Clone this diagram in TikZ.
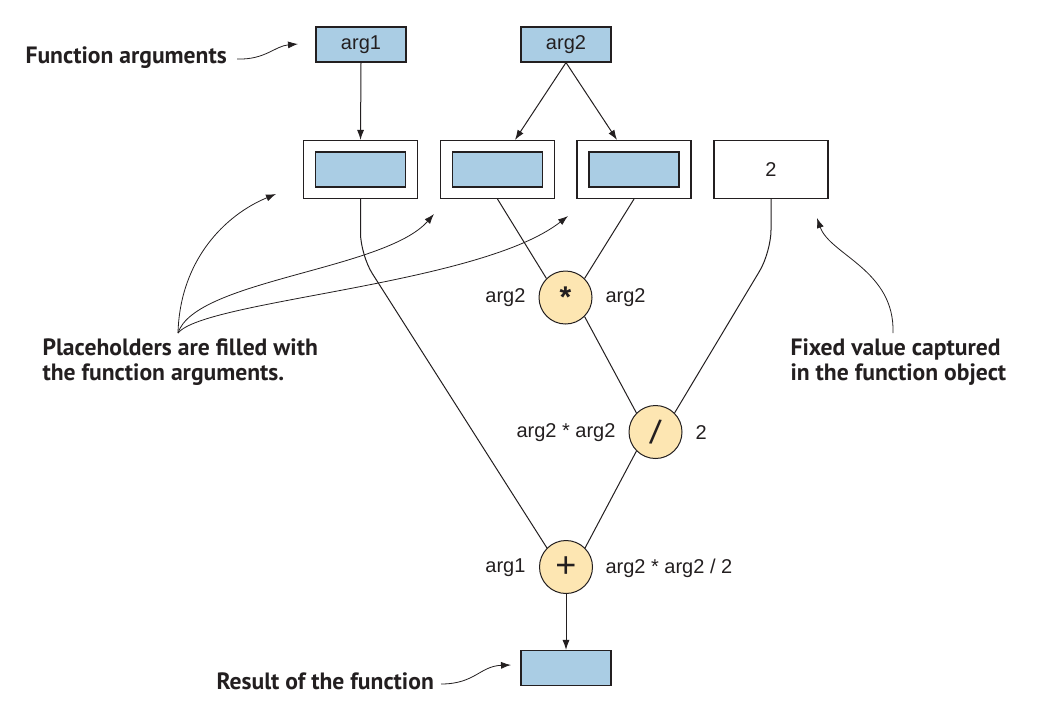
\documentclass[tikz,border=0pt]{standalone}
\usepackage{fontspec}
\setmainfont{Liberation Sans}
\newfontfamily\annotfont{PT Sans}
\usetikzlibrary{arrows.meta}
\definecolor{argblue}{HTML}{AACDE4}
\definecolor{opyellow}{HTML}{FDE6B2}
\definecolor{inkgray}{HTML}{231F20}
\begin{document}
\begin{tikzpicture}[x=1pt,y=-1pt,
  every node/.style={font=\fontsize{20}{23}\selectfont, text=inkgray},
  argbox/.style={draw=inkgray, line width=1.1pt, fill=argblue, minimum width=90pt, minimum height=35pt, inner sep=0pt},
  holder/.style={draw=inkgray, line width=1.1pt, fill=white, minimum width=114pt, minimum height=58pt, inner sep=0pt},
  opnode/.style={circle, draw=inkgray, line width=1pt, fill=opyellow, minimum size=53pt, inner sep=0pt},
  annot/.style={font=\annotfont\bfseries\fontsize{23.6}{25.5}\selectfont, align=left, text=inkgray},
  conn/.style={draw=inkgray, line width=1pt},
  arr/.style={conn, -{Latex[length=10pt,width=7pt]}},
  callout/.style={draw=inkgray, line width=0.8pt, -{Latex[length=10pt,width=7pt]}},
]
\useasboundingbox (0,0) rectangle (1038,721);
% argument boxes
\node[argbox] (arg1) at (361,44.5) {arg1};
\node[argbox] (arg2) at (566,44.5) {arg2};
% placeholder holders
\node[holder] (h1) at (360.5,169.5) {};
\node[argbox] (p1) at (h1.center) {};
\node[holder] (h2) at (497.5,169.5) {};
\node[argbox] (p2) at (h2.center) {};
\node[holder] (h3) at (634,169.5) {};
\node[argbox] (p3) at (h3.center) {};
\node[holder] (h4) at (771,169.5) {2};
% operators
\node[opnode, font=\bfseries\fontsize{30}{30}\selectfont] (mul) at (565.5,297.5) {\raisebox{-7pt}{*}};
\node[opnode, font=\fontsize{34}{34}\selectfont] (div) at (655.5,432) {\rotatebox{-8}{/}};
\node[opnode, font=\fontsize{36}{36}\selectfont] (add) at (566,567) {+};
\node[argbox] (res) at (566,668) {};
% operand labels
\node[anchor=east] (lm) at (529,297.5) {arg2};
\node[anchor=west] (rm) at (602,297.5) {arg2};
\node[anchor=east] (ld) at (619,433) {arg2 * arg2};
\node[anchor=west] (rd) at (692,433) {2};
\node[anchor=east] (la) at (529,568) {arg1};
\node[anchor=west] (ra) at (602,568) {arg2 * arg2 / 2};
% arrows from arguments
\draw[arr] (arg1.south) -- (h1.north);
\draw[arr] (arg2.south) -- (h2.north -| 515,0);
\draw[arr] (arg2.south) -- (h3.north -| 617,0);
% data flow
\coordinate (b1) at (360.5,255);
\coordinate (b4) at (771,252);
\draw[conn, rounded corners=22pt] (h1.south) -- (b1) -- (add.north west);
\draw[conn] (h2.south) -- (mul.north west);
\draw[conn] (h3.south) -- (mul.north east);
\draw[conn] (mul.south east) -- (div.north west);
\draw[conn, rounded corners=22pt] (h4.south) -- (b4) -- (div.north east);
\draw[conn] (div.south west) -- (add.north east);
\draw[arr] (add.south) -- (res.north);
% annotations
\node[annot, anchor=west] (tfa) at (22,58) {Function arguments};
\node[annot, anchor=north west] (tph) at (39,335) {Placeholders are filled with\\the function arguments.};
\node[annot, anchor=north west] (tfv) at (787,335) {Fixed value captured\\in the function object};
\node[annot, anchor=west] (trf) at (213,681) {Result of the function};
\coordinate (fa0) at (237,59);
\coordinate (fa1) at (298,44);
\draw[callout] (fa0) .. controls (265,60) and (275,46) .. (fa1);
\coordinate (ph0) at (178,333);
\coordinate (ph1) at (276,194);
\coordinate (ph2) at (434,214);
\coordinate (ph3) at (568,216);
\draw[callout] (ph0) .. controls (180,260) and (225,215) .. (ph1);
\draw[callout] (ph0) .. controls (195,280) and (385,270) .. (ph2);
\draw[callout] (ph0) .. controls (205,300) and (480,285) .. (ph3);
\coordinate (fv0) at (893,333);
\coordinate (fv1) at (817,218);
\draw[callout] (fv0) .. controls (895,270) and (830,255) .. (fv1);
\coordinate (rf0) at (441,684);
\coordinate (rf1) at (511,665);
\draw[callout] (rf0) .. controls (475,684) and (480,666) .. (rf1);
\end{tikzpicture}
\end{document}
